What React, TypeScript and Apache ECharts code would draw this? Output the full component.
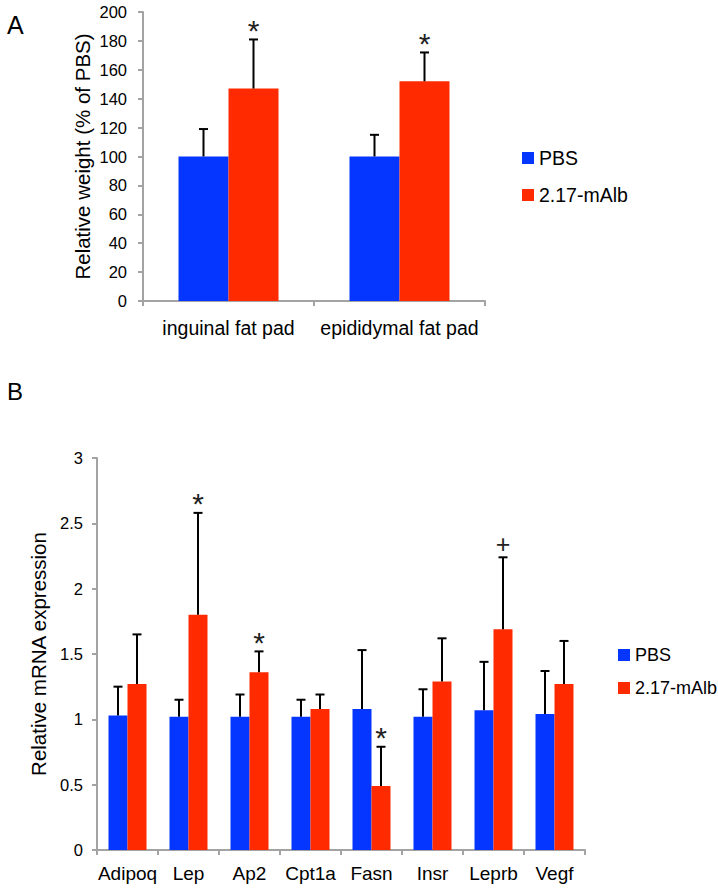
import React, { useEffect, useRef } from "react";
import * as echarts from "echarts";

const FONT = "'Liberation Sans', Arial, Helvetica, sans-serif";

// Panel A
const categoriesA = ["inguinal fat pad", "epididymal fat pad"];
const pbsA = [100, 100];
const pbsErrA = [19, 15];
const albA = [147, 152];
const albErrA = [34, 20];
const marksA = ["*", "*"];
const yTicksA = { min: 0, max: 200, interval: 20 };

// Panel B
const categoriesB = ["Adipoq", "Lep", "Ap2", "Cpt1a", "Fasn", "Insr", "Leprb", "Vegf"];
const pbsB = [1.03, 1.02, 1.02, 1.02, 1.08, 1.02, 1.07, 1.04];
const pbsErrB = [0.22, 0.13, 0.17, 0.13, 0.45, 0.21, 0.37, 0.33];
const albB = [1.27, 1.8, 1.36, 1.08, 0.49, 1.29, 1.69, 1.27];
const albErrB = [0.38, 0.78, 0.16, 0.11, 0.3, 0.33, 0.55, 0.33];
const marksB = ["", "*", "*", "", "*", "", "+", ""];
const yTicksB = { min: 0, max: 3, interval: 0.5 };

const seriesNames = ["PBS", "2.17-mAlb"];
const BLUE = "#0536FF";
const RED = "#FF2A00";
const AXIS = "#a3a3a3";

function errSeries(gi: number, means: number[], errs: number[], side: number, barW: number, marks: string[] | null) {
  return {
    type: "custom",
    xAxisIndex: gi,
    yAxisIndex: gi,
    z: 5,
    silent: true,
    clip: false,
    data: means.map((m, i) => [i, m, m + errs[i]]),
    renderItem: (params: any, api: any) => {
      const i = api.value(0);
      const base = api.coord([i, api.value(1)]);
      const top = api.coord([i, api.value(2)]);
      const x = base[0] + (side * barW) / 2;
      const children: any[] = [
        { type: "line", shape: { x1: x, y1: base[1], x2: x, y2: top[1] }, style: { stroke: "#000", lineWidth: 2 } },
        { type: "line", shape: { x1: x - 4.5, y1: top[1], x2: x + 4.5, y2: top[1] }, style: { stroke: "#000", lineWidth: 2 } },
      ];
      const mk = marks ? marks[params.dataIndex] : "";
      if (mk) {
        const isPlus = mk === "+";
        children.push({
          type: "text",
          x,
          y: top[1] - (isPlus ? 13 : 9),
          style: {
            text: mk,
            fontSize: isPlus ? 25 : 30,
            fontFamily: FONT,
            fill: "#222",
            align: "center",
            verticalAlign: "middle",
          },
        });
      }
      return { type: "group", children };
    },
  };
}

export default function App() {
  const ref = useRef<HTMLDivElement>(null);
  useEffect(() => {
    if (!ref.current) return;
    const chart = echarts.init(ref.current, undefined, { renderer: "svg" });
    const axisLine = { show: true, lineStyle: { color: AXIS, width: 2 } };
    const axisTick = { show: true, length: 5, lineStyle: { color: AXIS, width: 2 } };
    const option: any = {
      animation: false,
      backgroundColor: "#fff",
      textStyle: { fontFamily: FONT },
      grid: [
        { left: 143, top: 12, width: 342, height: 289 },
        { left: 97, top: 458, width: 488, height: 392 },
      ],
      xAxis: [
        {
          gridIndex: 0,
          type: "category",
          data: categoriesA,
          axisLine,
          axisTick: { ...axisTick, alignWithLabel: false },
          axisLabel: { color: "#000", fontSize: 19.5, margin: 17, fontFamily: FONT, interval: 0 },
          splitLine: { show: false },
        },
        {
          gridIndex: 1,
          type: "category",
          data: categoriesB,
          axisLine,
          axisTick: { ...axisTick, alignWithLabel: false },
          axisLabel: { color: "#000", fontSize: 19, margin: 14, fontFamily: FONT, interval: 0 },
          splitLine: { show: false },
        },
      ],
      yAxis: [
        {
          gridIndex: 0,
          type: "value",
          min: yTicksA.min,
          max: yTicksA.max,
          interval: yTicksA.interval,
          axisLine,
          axisTick,
          splitLine: { show: false },
          axisLabel: { color: "#000", fontSize: 16.5, margin: 16, fontFamily: FONT },
          name: "Relative weight (% of PBS)",
          nameLocation: "middle",
          nameGap: 50,
          nameTextStyle: { color: "#000", fontSize: 20.5, fontFamily: FONT },
        },
        {
          gridIndex: 1,
          type: "value",
          min: yTicksB.min,
          max: yTicksB.max,
          interval: yTicksB.interval,
          axisLine,
          axisTick,
          splitLine: { show: false },
          axisLabel: { color: "#000", fontSize: 16.5, margin: 14, fontFamily: FONT },
          name: "Relative mRNA expression",
          nameLocation: "middle",
          nameGap: 44,
          nameTextStyle: { color: "#000", fontSize: 20.5, fontFamily: FONT },
        },
      ],
      legend: [
        {
          data: seriesNames,
          orient: "vertical",
          left: 517,
          top: 143,
          itemWidth: 12,
          itemHeight: 12,
          itemGap: 17,
          icon: "rect",
          selectedMode: false,
          textStyle: { color: "#000", fontSize: 19.5, fontFamily: FONT },
        },
        {
          data: seriesNames,
          orient: "vertical",
          left: 613,
          top: 641,
          itemWidth: 12,
          itemHeight: 12,
          itemGap: 15,
          icon: "rect",
          selectedMode: false,
          textStyle: { color: "#000", fontSize: 18, fontFamily: FONT },
        },
      ],
      graphic: [
        { type: "text", left: 7, top: 12, style: { text: "A", fontSize: 25, fontFamily: FONT, fill: "#000" } },
        { type: "text", left: 7, top: 379, style: { text: "B", fontSize: 24, fontFamily: FONT, fill: "#000" } },
      ],
      series: [
        { name: seriesNames[0], type: "bar", xAxisIndex: 0, yAxisIndex: 0, data: pbsA, barWidth: 50, barGap: "0%", itemStyle: { color: BLUE } },
        { name: seriesNames[1], type: "bar", xAxisIndex: 0, yAxisIndex: 0, data: albA, barWidth: 50, barGap: "0%", itemStyle: { color: RED } },
        { name: seriesNames[0], type: "bar", xAxisIndex: 1, yAxisIndex: 1, data: pbsB, barWidth: 19, barGap: "0%", itemStyle: { color: BLUE } },
        { name: seriesNames[1], type: "bar", xAxisIndex: 1, yAxisIndex: 1, data: albB, barWidth: 19, barGap: "0%", itemStyle: { color: RED } },
        errSeries(0, pbsA, pbsErrA, -1, 50, null),
        errSeries(0, albA, albErrA, 1, 50, marksA),
        errSeries(1, pbsB, pbsErrB, -1, 19, null),
        errSeries(1, albB, albErrB, 1, 19, marksB),
      ],
    };
    chart.setOption(option);
    return () => chart.dispose();
  }, []);
  return <div ref={ref} style={{ position: "absolute", left: 0, top: 0, width: 718, height: 892 }} />;
}
